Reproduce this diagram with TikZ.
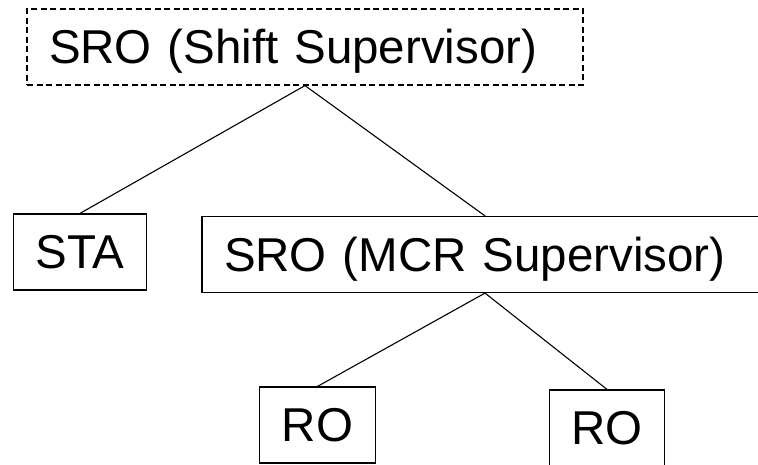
\documentclass[tikz,border=0pt]{standalone}
\usepackage{fontspec}
\setsansfont{Liberation Sans}
\usepackage{tikz}

\begin{document}
\begin{tikzpicture}[x=1pt,y=1pt,
  post/.style={draw,line width=1.2pt,font=\sffamily\fontsize{47.5}{57}\selectfont,
    inner xsep=22pt,text height=34pt,text depth=0pt,minimum height=76pt,align=left},
  link/.style={line width=1.1pt}]
  \clip (0,0) rectangle (758,465);
  \node[post,dash pattern=on 6pt off 3.5pt,text width=512pt] (shift) at (305,418) {SRO (Shift Supervisor)};
  \node[post] (sta) at (80,213) {STA};
  \node[post,text width=522pt] (mcr) at (485,210.5) {SRO (MCR Supervisor)};
  \node[post] (roa) at (317.5,40) {RO};
  \node[post] (rob) at (607,37) {RO};
  \draw[link] (shift.south) -- (sta.north);
  \draw[link] (shift.south) -- (mcr.north);
  \draw[link] (mcr.south) -- (roa.north);
  \draw[link] (mcr.south) -- (rob.north);
\end{tikzpicture}
\end{document}
